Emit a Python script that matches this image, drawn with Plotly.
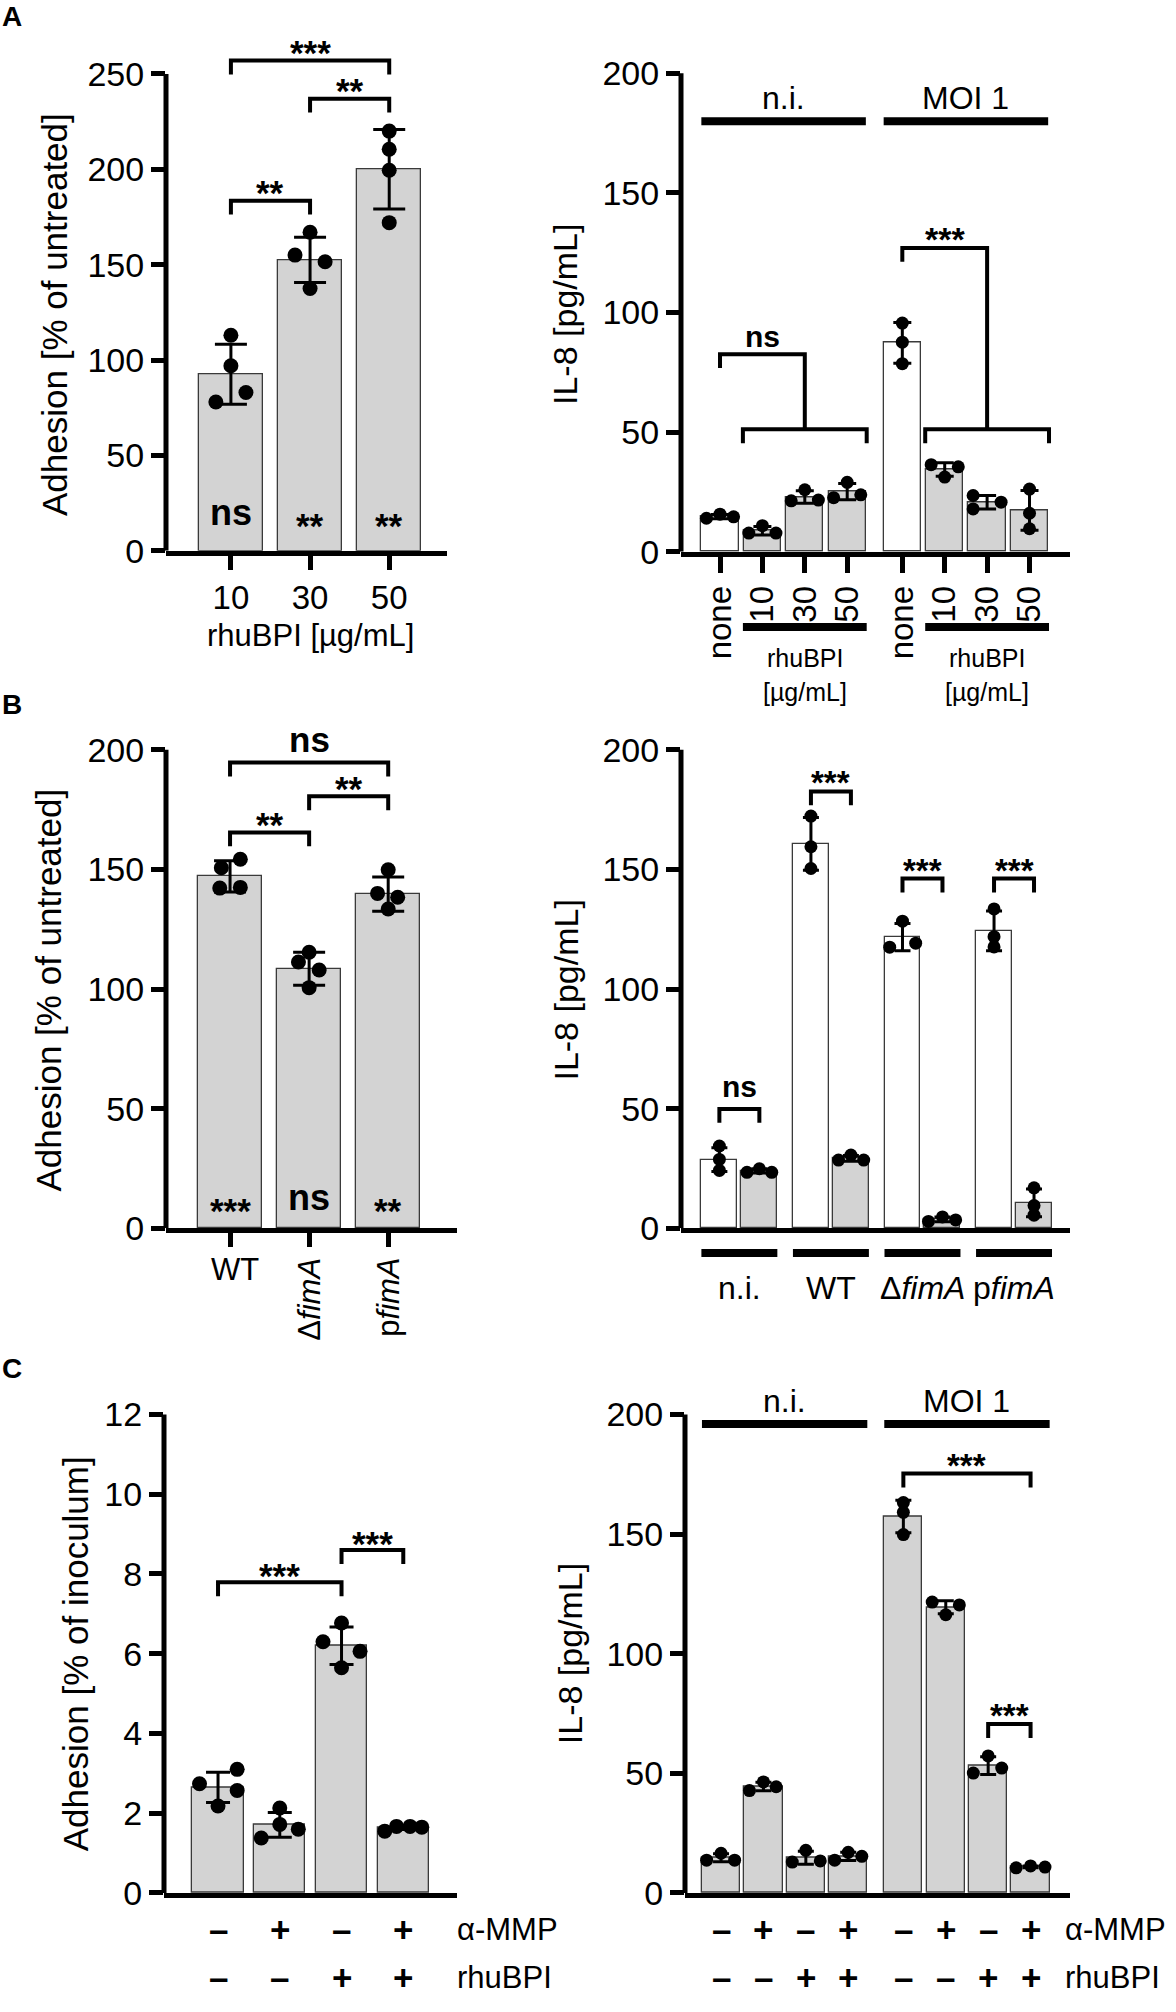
import plotly.graph_objects as go

W, H = 1176, 2012
FONT = "Liberation Sans, Arial, Helvetica, sans-serif"
GRAY = "#d3d3d3"
WHITE = "#ffffff"
EDGE = "#3a3a3a"

# ---------------- Panel A, left: adhesion vs rhuBPI dose ----------------
A1_dose = ["10", "30", "50"]
A1_mean = [92.5, 152.5, 200.0]
A1_sd = [15.7, 11.8, 20.8]
A1_pts = [[113, 97, 83, 78], [167, 155, 151.5, 137.5], [220, 210.5, 199.5, 172]]
A1_jit = [[0, 0, 0.19, -0.19], [0, -0.19, 0.19, 0], [0, 0, 0, 0]]
A1_vs_ctrl = ["ns", "**", "**"]
A1_cmp = [(0, 1, 183.5, "**"), (1, 2, 237.0, "**"), (0, 2, 257.0, "***")]
A1_yticks = [0, 50, 100, 150, 200, 250]

# ---------------- Panel A, right: IL-8 ----------------
A2_groups = ["n.i.", "MOI 1"]
A2_dose = ["none", "10", "30", "50"]
A2_mean = [[14.7, 8.8, 22.9, 25.1], [87.3, 34.4, 20.7, 17.3]]
A2_sd = [[0.9, 1.8, 2.6, 3.4], [8.5, 2.8, 2.8, 8.3]]
A2_pts = [[[14.0, 15.7, 14.6], [7.8, 10.9, 7.8], [21.3, 25.9, 21.6], [22.6, 29.0, 23.8]],
          [[95.6, 87.6, 78.6], [36.4, 31.2, 35.5], [23.5, 17.9, 20.7], [26.2, 16.1, 9.6]]]
A2_jit = [[[-0.32, 0, 0.32], [-0.32, 0, 0.32], [-0.32, 0, 0.32], [-0.32, 0, 0.32]],
          [[0, 0, 0], [-0.32, 0, 0.32], [-0.33, -0.33, 0.33], [0, 0, 0]]]
A2_cmp_label = ["ns", "***"]
A2_cmp_top = [82.6, 127.0]
A2_cmp_low = [51.2, 51.2]
A2_yticks = [0, 50, 100, 150, 200]

# ---------------- Panel B, left: adhesion of strains ----------------
B1_strain = ["WT", "ΔfimA", "pfimA"]
B1_mean = [147.1, 108.5, 139.7]
B1_sd = [6.5, 6.9, 7.2]
B1_pts = [[154.3, 150.7, 142.2, 142.5], [115.4, 111.3, 108.0, 100.6], [149.9, 140.0, 138.4, 133.5]]
B1_jit = [[0.13, -0.11, -0.13, 0.13], [0, -0.135, 0.127, 0], [0, -0.135, 0.12, 0]]
B1_vs_ctrl = ["***", "ns", "**"]
B1_cmp = [(0, 1, 165.5, "**"), (1, 2, 180.6, "**"), (0, 2, 194.7, "ns")]
B1_yticks = [0, 50, 100, 150, 200]

# ---------------- Panel B, right: IL-8 per strain ----------------
B2_groups = ["n.i.", "WT", "ΔfimA", "pfimA"]
B2_untreated = [28.7, 160.7, 121.7, 124.3]
B2_untreated_sd = [5.0, 11.0, 5.7, 8.3]
B2_untreated_pts = [[34.4, 28.8, 24.2], [172.3, 159.5, 150.4], [117.5, 128.4, 119.2], [133.5, 121.9, 117.6]]
B2_untreated_jit = [[0, 0, 0], [0, 0, 0], [-0.32, 0, 0.33], [0, 0, 0]]
B2_rhubpi = [24.0, 29.2, 3.7, 10.6]
B2_rhubpi_sd = [0.9, 1.2, 1.0, 5.8]
B2_rhubpi_pts = [[23.4, 24.9, 23.4], [28.5, 30.6, 28.5], [2.85, 4.75, 3.5], [16.9, 9.5, 5.5]]
B2_rhubpi_jit = [[-0.31, 0, 0.31], [-0.31, 0, 0.32], [-0.35, 0, 0.33], [0, 0, 0]]
B2_cmp_label = ["ns", "***", "***", "***"]
B2_cmp_y = [49.9, 182.6, 146.2, 146.2]
B2_yticks = [0, 50, 100, 150, 200]

# ---------------- Panel C, left: adhesion with alpha-MMP ----------------
C1_ammp = ["–", "+", "–", "+"]
C1_rhubpi = ["–", "–", "+", "+"]
C1_mean = [2.65, 1.71, 6.2, 1.64]
C1_sd = [0.38, 0.31, 0.47, 0.05]
C1_pts = [[2.74, 3.10, 2.57, 2.18], [2.13, 1.72, 1.60, 1.38], [6.77, 6.30, 6.06, 5.65], [1.55, 1.67, 1.67, 1.65]]
C1_jit = [[-0.3, 0.31, 0.31, 0], [0, 0, 0.3, -0.3], [0, -0.3, 0.3, 0], [-0.3, -0.11, 0.11, 0.3]]
C1_cmp = [(0, 2, 7.79, "***"), (2, 3, 8.6, "***")]
C1_yticks = [0, 2, 4, 6, 8, 10, 12]

# ---------------- Panel C, right: IL-8 with alpha-MMP ----------------
C2_groups = ["n.i.", "MOI 1"]
C2_ammp = ["–", "+", "–", "+"]
C2_rhubpi = ["–", "–", "+", "+"]
C2_mean = [[14.7, 44.5, 14.7, 15.3], [157.4, 119.4, 53.2, 10.9]]
C2_sd = [[1.7, 1.8, 2.7, 1.7], [6.8, 2.7, 3.7, 0.4]]
C2_pts = [[[13.7, 16.6, 13.7], [42.8, 46.4, 44.4], [12.9, 17.8, 13.4], [13.7, 17.0, 15.3]],
          [[163.2, 159.1, 149.8], [121.6, 116.3, 120.4], [50.1, 57.3, 52.2], [10.5, 11.3, 10.8]]]
C2_jit = [[[-0.34, 0, 0.32], [-0.33, 0, 0.3], [-0.32, 0, 0.34], [-0.32, 0, 0.32]],
          [[0, 0, 0], [-0.32, 0, 0.32], [-0.35, 0, 0.32], [-0.34, 0, 0.34]]]
C2_cmp = [((1, 0), (1, 3), 175.3, "***"), ((1, 2), (1, 3), 70.6, "***")]
C2_yticks = [0, 50, 100, 150, 200]

# ---------------- layout geometry (pixels) ----------------
SPEC = {
    1: dict(x0=166, x1=447, xr=[-0.82, 2.73], yz=556, yt=74.6, rmax=275),
    2: dict(x0=681, x1=1070, xr=[-0.92, 8.255], yz=557, yt=74, rmax=215),
    3: dict(x0=166, x1=457, xr=[-0.81, 2.87], yz=1240, yt=757, rmax=215),
    4: dict(x0=681, x1=1070, xr=[-0.96, 8.77], yz=1240, yt=757, rmax=215),
    5: dict(x0=164, x1=457, xr=[-0.875, 3.87], yz=1911, yt=1428, rmax=13),
    6: dict(x0=685, x1=1070, xr=[-0.85, 8.23], yz=1911, yt=1428, rmax=215),
}
TICK_FONT = 34

fig = go.Figure()
shapes, annots, axes = [], [], {}


def refs(n):
    s = "" if n == 1 else str(n)
    return "x" + s, "y" + s


def py(p):
    return 1 - p / H


def setup(n, yticks):
    sp = SPEC[n]
    xr, yr = refs(n)
    ppu = (sp["yz"] - sp["yt"]) / yticks[-1]
    top = sp["yz"] - sp["rmax"] * ppu
    sp["ppu"] = ppu
    axes["xaxis" + xr[1:]] = dict(domain=[sp["x0"] / W, sp["x1"] / W], range=sp["xr"], anchor=yr,
                                  showline=True, linewidth=5, linecolor="black", showgrid=False,
                                  zeroline=False, ticks="", showticklabels=False, fixedrange=True)
    axes["yaxis" + yr[1:]] = dict(domain=[py(sp["yz"]), py(top)], range=[0, sp["rmax"]], anchor=xr,
                                  showline=False, showgrid=False, zeroline=False, ticks="outside",
                                  ticklen=14, tickwidth=4.5, tickcolor="black", tickmode="array",
                                  tickvals=yticks, ticktext=[str(t) for t in yticks],
                                  tickfont=dict(family=FONT, size=TICK_FONT, color="black"),
                                  fixedrange=True)
    shapes.append(dict(type="line", xref=xr + " domain", yref=yr, x0=0, x1=0, y0=0, y1=yticks[-1],
                       line=dict(color="black", width=5)))
    return xr, yr


def add_bars(n, pos, mean, sd, colors, width, cap, ms, pts, jit):
    xr, yr = refs(n)
    fig.add_trace(go.Bar(x=pos, y=mean, width=width, xaxis=xr, yaxis=yr,
                         marker=dict(color=colors, line=dict(color=EDGE, width=1.3)),
                         error_y=dict(type="data", array=sd, visible=True, color="black",
                                      thickness=3, width=cap),
                         hoverinfo="skip", showlegend=False))
    xs, ys = [], []
    for p, vals, js in zip(pos, pts, jit):
        for v, j in zip(vals, js):
            xs.append(p + j)
            ys.append(v)
    fig.add_trace(go.Scatter(x=xs, y=ys, mode="markers", xaxis=xr, yaxis=yr, cliponaxis=False,
                             marker=dict(color="black", size=ms, line=dict(width=0)),
                             hoverinfo="skip", showlegend=False))


def label_style(label, star_size, ns_size, star_shift, ns_shift):
    if label.startswith("*"):
        return "<b>%s</b>" % label, star_size, star_shift
    return "<b>%s</b>" % label, ns_size, ns_shift


def bracket(n, xa, xb, y, label, star_size, ns_size, star_shift, ns_shift):
    xr, yr = refs(n)
    leg = 14 / SPEC[n]["ppu"]
    shapes.append(dict(type="path", xref=xr, yref=yr, line=dict(color="black", width=4),
                       path=f"M{xa},{y - leg} L{xa},{y} L{xb},{y} L{xb},{y - leg}"))
    txt, size, shift = label_style(label, star_size, ns_size, star_shift, ns_shift)
    annots.append(dict(xref=xr, yref=yr, x=(xa + xb) / 2, y=y, text=txt, showarrow=False,
                       yanchor="bottom", yshift=shift, font=dict(family=FONT, size=size, color="black")))


def text(x, y, s, size, xref="paper", yref="paper", angle=0, xanchor="center", yanchor="middle",
         yshift=0):
    annots.append(dict(xref=xref, yref=yref, x=x, y=y, text=s, showarrow=False, textangle=angle,
                       xanchor=xanchor, yanchor=yanchor, yshift=yshift,
                       font=dict(family=FONT, size=size, color="black")))


def italic_strain(s):
    if s.endswith("fimA"):
        return s[:-4] + "<i>fimA</i>"
    return s


# ================= Panel A left =================
xr, yr = setup(1, A1_yticks)
pos1 = list(range(len(A1_dose)))
add_bars(1, pos1, A1_mean, A1_sd, [GRAY] * len(pos1), 0.81, 16, 15, A1_pts, A1_jit)
axes["xaxis"].update(ticks="outside", ticklen=14, tickwidth=4.5, tickcolor="black",
                     showticklabels=True, tickmode="array", tickvals=pos1, ticktext=A1_dose,
                     tickfont=dict(family=FONT, size=33, color="black"))
for i, s in enumerate(A1_vs_ctrl):
    txt, size, shift = label_style(s, 35, 36, -13, 0)
    text(pos1[i], 20, txt, size, xref=xr, yref=yr, yshift=shift)
for a, b, y, lab in A1_cmp:
    bracket(1, pos1[a], pos1[b], y, lab, 35, 34, -13, 2)
text(sum(pos1) / len(pos1), py(642), "rhuBPI [µg/mL]", 31, xref=xr)
text(55 / W, py(318), "Adhesion [% of untreated]", 35, angle=-90)

# ================= Panel A right =================
xr, yr = setup(2, A2_yticks)
pos2, cols2, mean2, sd2, pts2, jit2, tick2 = [], [], [], [], [], [], []
for g in range(len(A2_groups)):
    for i, d in enumerate(A2_dose):
        pos2.append(g * (len(A2_dose) + 0.3) + i)
        cols2.append(WHITE if d == "none" else GRAY)
        mean2.append(A2_mean[g][i])
        sd2.append(A2_sd[g][i])
        pts2.append(A2_pts[g][i])
        jit2.append(A2_jit[g][i])
        tick2.append(d)
add_bars(2, pos2, mean2, sd2, cols2, 0.88, 9, 13, pts2, jit2)
axes["xaxis2"].update(ticks="outside", ticklen=16, tickwidth=4.5, tickcolor="black",
                      showticklabels=True, tickmode="array", tickvals=pos2, ticktext=tick2,
                      tickangle=-90, tickfont=dict(family=FONT, size=33, color="black"))
nd = len(A2_dose)
for g, name in enumerate(A2_groups):
    first, last = pos2[g * nd], pos2[g * nd + nd - 1]
    shapes.append(dict(type="line", xref=xr, yref=yr, x0=first - 0.44, x1=last + 0.44, y0=180, y1=180,
                       line=dict(color="black", width=8)))
    text((first + last) / 2, 180, name, 32, xref=xr, yref=yr, yanchor="bottom", yshift=3)
    # rhuBPI underline and label below axis
    a, b = pos2[g * nd + 1], pos2[g * nd + nd - 1]
    shapes.append(dict(type="line", xref=xr, yref="paper", x0=a - 0.46, x1=b + 0.46, y0=py(633), y1=py(633),
                       line=dict(color="black", width=8)))
    text((a + b) / 2, py(664), "rhuBPI", 25, xref=xr)
    text((a + b) / 2, py(699), "[µg/mL]", 25, xref=xr)
    # one-vs-many comparison bracket
    ref = pos2[g * nd]
    mid = (a + b) / 2
    top, low = A2_cmp_top[g], A2_cmp_low[g]
    leg = 14 / SPEC[2]["ppu"]
    shapes.append(dict(type="path", xref=xr, yref=yr, line=dict(color="black", width=4),
                       path=f"M{ref},{top - leg} L{ref},{top} L{mid},{top} L{mid},{low}"))
    shapes.append(dict(type="path", xref=xr, yref=yr, line=dict(color="black", width=4),
                       path=f"M{a - 0.46},{low - leg} L{a - 0.46},{low} L{b + 0.46},{low} L{b + 0.46},{low - leg}"))
    txt, size, shift = label_style(A2_cmp_label[g], 34, 30, -12, -1)
    text((ref + mid) / 2, top, txt, size, xref=xr, yref=yr, yanchor="bottom", yshift=shift)
text(565 / W, py(318), "IL-8 [pg/mL]", 34, angle=-90)

# ================= Panel B left =================
xr, yr = setup(3, B1_yticks)
pos3 = list(range(len(B1_strain)))
add_bars(3, pos3, B1_mean, B1_sd, [GRAY] * len(pos3), 0.81, 16, 15, B1_pts, B1_jit)
axes["xaxis3"].update(ticks="outside", ticklen=14, tickwidth=4.5, tickcolor="black",
                      tickmode="array", tickvals=pos3, ticktext=[""] * len(pos3))
for i, s in enumerate(B1_vs_ctrl):
    txt, size, shift = label_style(s, 35, 36, -13, 0)
    text(pos3[i], 12.8, txt, size, xref=xr, yref=yr, yshift=shift)
for a, b, y, lab in B1_cmp:
    bracket(3, pos3[a], pos3[b], y, lab, 35, 35, -14, 2)
for i, s in enumerate(B1_strain):
    if s == "WT":
        text(pos3[i] + 0.06, py(1282), s, 31, xref=xr)
    else:
        text(pos3[i], py(1268), italic_strain(s), 31, xref=xr, angle=-90, yanchor="top")
text(49 / W, py(1000), "Adhesion [% of untreated]", 35, angle=-90)

# ================= Panel B right =================
xr, yr = setup(4, B2_yticks)
gap4 = 2.29
pos_u = [g * gap4 for g in range(len(B2_groups))]
pos_r = [g * gap4 + 1 for g in range(len(B2_groups))]
add_bars(4, pos_u, B2_untreated, B2_untreated_sd, [WHITE] * len(pos_u), 0.9, 8, 13,
         B2_untreated_pts, B2_untreated_jit)
add_bars(4, pos_r, B2_rhubpi, B2_rhubpi_sd, [GRAY] * len(pos_r), 0.9, 8, 13,
         B2_rhubpi_pts, B2_rhubpi_jit)
for g, name in enumerate(B2_groups):
    bracket(4, pos_u[g], pos_r[g], B2_cmp_y[g], B2_cmp_label[g], 33, 30, -12, 4)
    shapes.append(dict(type="line", xref=xr, yref="paper", x0=pos_u[g] - 0.45, x1=pos_r[g] + 0.45,
                       y0=py(1265), y1=py(1265), line=dict(color="black", width=8)))
    text((pos_u[g] + pos_r[g]) / 2, py(1300), italic_strain(name), 32, xref=xr)
text(566 / W, py(1000), "IL-8 [pg/mL]", 34, angle=-90)

# ================= Panel C left =================
xr, yr = setup(5, C1_yticks)
pos5 = list(range(len(C1_mean)))
add_bars(5, pos5, C1_mean, C1_sd, [GRAY] * len(pos5), 0.83, 12, 15, C1_pts, C1_jit)
for a, b, y, lab in C1_cmp:
    bracket(5, pos5[a], pos5[b], y, lab, 35, 34, -15, 2)
for i in range(len(pos5)):
    text(pos5[i], py(1948), "<b>%s</b>" % C1_ammp[i], 35, xref=xr)
    text(pos5[i], py(1996), "<b>%s</b>" % C1_rhubpi[i], 35, xref=xr)
text(455 / W, py(1948), "α-MMP", 31, xanchor="left")
text(455 / W, py(1996), "rhuBPI", 31, xanchor="left")
text(75 / W, py(1670), "Adhesion [% of inoculum]", 35, angle=-90)

# ================= Panel C right =================
xr, yr = setup(6, C2_yticks)
pos6, mean6, sd6, pts6, jit6, am6, rb6 = [], [], [], [], [], [], []
posmap = {}
for g in range(len(C2_groups)):
    for i in range(len(C2_ammp)):
        p = g * (len(C2_ammp) + 0.3) + i
        posmap[(g, i)] = p
        pos6.append(p)
        mean6.append(C2_mean[g][i])
        sd6.append(C2_sd[g][i])
        pts6.append(C2_pts[g][i])
        jit6.append(C2_jit[g][i])
        am6.append(C2_ammp[i])
        rb6.append(C2_rhubpi[i])
add_bars(6, pos6, mean6, sd6, [GRAY] * len(pos6), 0.9, 8, 13, pts6, jit6)
for ka, kb, y, lab in C2_cmp:
    bracket(6, posmap[ka], posmap[kb], y, lab, 33, 30, -12, 2)
ng = len(C2_ammp)
for g, name in enumerate(C2_groups):
    first, last = posmap[(g, 0)], posmap[(g, ng - 1)]
    shapes.append(dict(type="line", xref=xr, yref=yr, x0=first - 0.45, x1=last + 0.45, y0=196, y1=196,
                       line=dict(color="black", width=8)))
    text((first + last) / 2, 196, name, 32, xref=xr, yref=yr, yanchor="bottom", yshift=3)
for i, p in enumerate(pos6):
    text(p, py(1948), "<b>%s</b>" % am6[i], 35, xref=xr)
    text(p, py(1996), "<b>%s</b>" % rb6[i], 35, xref=xr)
text(1063 / W, py(1948), "α-MMP", 31, xanchor="left")
text(1063 / W, py(1996), "rhuBPI", 31, xanchor="left")
text(570 / W, py(1670), "IL-8 [pg/mL]", 34, angle=-90)

# ================= panel letters =================
for letter, yl in (("A", 17), ("B", 711), ("C", 1382)):
    text(12 / W, py(yl), "<b>%s</b>" % letter, 28)

fig.update_layout(width=W, height=H, margin=dict(l=0, r=0, t=0, b=0, pad=0),
                  paper_bgcolor="white", plot_bgcolor="rgba(0,0,0,0)", showlegend=False,
                  bargap=0, font=dict(family=FONT, color="black"),
                  shapes=shapes, annotations=annots, **axes)

fig.write_html("out.html", config={"displayModeBar": False},
               post_script="document.body.style.margin='0';")
